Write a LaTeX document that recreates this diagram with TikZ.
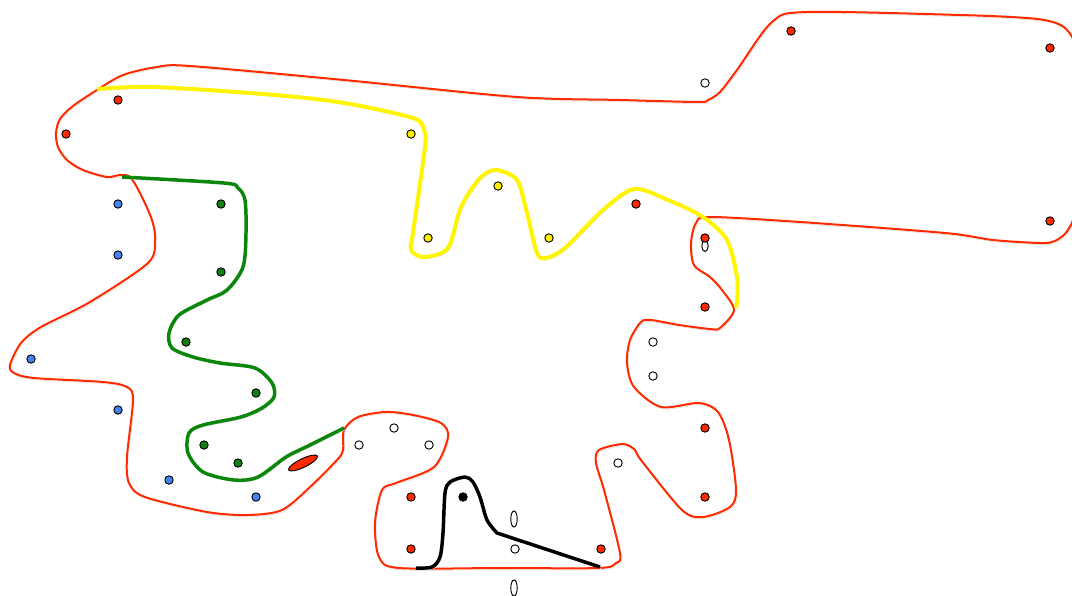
\documentclass[tikz,border=0pt]{standalone}
\begin{document}
\begin{tikzpicture}[x=0.75pt,y=-0.75pt,
  shade/.style={preaction={draw=black!14,transform canvas={xshift=0.9pt,yshift=-1.3pt}}},
  redline/.style={draw={rgb,255:red,255;green,42;blue,0},line width=1.5pt,shade},
  yelline/.style={draw={rgb,255:red,255;green,245;blue,0},line width=3pt,shade},
  grnline/.style={draw={rgb,255:red,10;green,135;blue,10},line width=2.6pt,shade},
  blkline/.style={draw=black,line width=2.6pt,shade},
  dot/.style={draw=black,line width=0.7pt},
]
\useasboundingbox (0,0) rectangle (1072,596);
\clip (0,0) rectangle (1072,596);
\definecolor{dred}{RGB}{255,42,0}
\definecolor{dyel}{RGB}{255,240,0}
\definecolor{dgrn}{RGB}{16,128,16}
\definecolor{dblu}{RGB}{70,130,240}

% red outline
\draw[redline] plot[smooth cycle,tension=0.5] coordinates {
(123,75) (157,67) (190,66) (344,80) (517,97) (620,100) (698,102) (708,100) (720,92) (737,70) (772,22) (807,12) (960,15) (1027,18) (1053,22) (1067,30) (1076,50) (1078,120) (1076,205) (1068,230) (1055,241) (1040,243) (993,240) (945,233) (800,222) (710,217) (696,223) (691,243) (694,265) (710,277) (722,290) (734,310) (720,328) (710,329) (679,325) (651,320) (641,322) (630,340) (627,363) (634,387) (661,407) (699,403) (718,412) (729,440) (736,490) (730,507) (703,517) (682,510) (641,460) (635,450) (623,444) (599,450) (596,463) (604,490) (620,553) (616,563) (599,568) (500,568) (399,568) (379,557) (375,523) (382,490) (396,483) (434,467) (448,437) (441,423) (413,415) (386,412) (358,417) (344,430) (343,450) (337,460) (310,487) (282,510) (248,515) (207,512) (145,497) (129,483) (127,457) (133,400) (127,387) (103,382) (34,378) (14,373) (10,365) (21,343) (41,327) (90,302) (148,263) (155,240) (152,220) (140,193) (130,177) (120,175) (107,177) (83,170) (67,160) (58,147) (56,133) (60,119) (73,106) (97,90)};

% yellow
\draw[yelline] plot[smooth,tension=0.5] coordinates {
(97,89) (155,87) (275,95) (344,103) (413,118) (424,130) (425,147) (413,233) (411,250) (424,257) (448,248) (461,207) (480,178) (496,170) (517,180) (527,213) (537,253) (546,258) (565,248) (603,210) (634,189) (668,200) (703,217) (727,240) (737,277) (737,300) (736,308)};

% green
\draw[grnline] plot[smooth,tension=0.5] coordinates {
(122,177) (224,183) (238,188) (245,200) (246,233) (243,267) (227,290) (207,300) (179,315) (169,333) (172,348) (193,357) (220,363) (255,368) (272,383) (274,397) (262,408) (241,417) (203,425) (189,433) (188,453) (203,472) (234,480) (258,477) (286,457) (310,445) (344,428)};

% black
\draw[blkline] plot[smooth,tension=0.5] coordinates {
(416,568) (432,567) (440,557) (443,533) (445,493) (450,482) (465,477) (473,482) (480,497) (487,520) (497,533)} -- (600,567);

% red ellipse
\draw[dot,fill=dred,rotate around={26:(303,463)}] (303,463) ellipse [x radius=16,y radius=4.3];

% small zero-like ellipses
\draw[dot,fill=white] (705,246) ellipse [x radius=3.2,y radius=5.5];
\draw[dot,fill=white] (514,519) ellipse [x radius=3.2,y radius=8];
\draw[dot,fill=white] (514,588) ellipse [x radius=3.2,y radius=8];

% dots
\foreach \p in {(118,100),(66,134),(791,31),(1050,48),(636,204),(705,238),(1050,221),(705,307),(705,428),(705,497),(601,549),(411,497),(411,549)}
  \draw[dot,fill=dred] \p circle[radius=4.2];
\foreach \p in {(705,83),(653,342),(653,376),(618,463),(359,445),(394,428),(429,445),(515,549)}
  \draw[dot,fill=white] \p circle[radius=4.2];
\foreach \p in {(411,134),(428,238),(498,186),(549,238)}
  \draw[dot,fill=dyel] \p circle[radius=4.2];
\foreach \p in {(221,204),(221,272),(186,342),(256,393),(204,445),(238,463)}
  \draw[dot,fill=dgrn] \p circle[radius=4.2];
\foreach \p in {(118,204),(118,255),(31,359),(118,410),(169,480),(256,497)}
  \draw[dot,fill=dblu] \p circle[radius=4.2];
\draw[dot,fill=black] (463,497) circle[radius=4.2];
\end{tikzpicture}
\end{document}
